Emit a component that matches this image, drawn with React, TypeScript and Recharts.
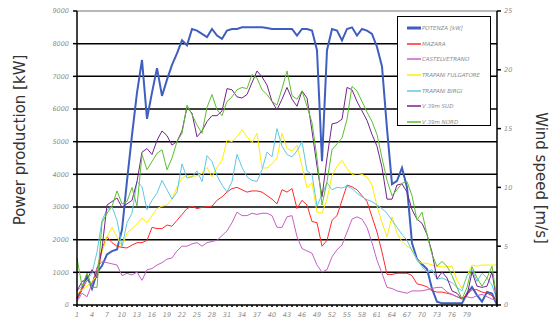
import { ComposedChart, Legend, Line, ReferenceLine, XAxis, YAxis } from 'recharts'

const WIDTH = 549
const HEIGHT = 324

// one sample per time step, 1..85
const STEPS = Array.from({ length: 85 }, (_, i) => i + 1)
const X_LABELS = [1, 4, 7, 10, 13, 16, 19, 22, 25, 28, 31, 34, 37, 40, 43, 46, 49, 52, 55, 58, 61, 64, 67, 70, 73, 76, 79]
const POWER_TICKS = [0, 1000, 2000, 3000, 4000, 5000, 6000, 7000, 8000, 9000]
const GRID_LINES = [1000, 2000, 3000, 4000, 5000, 6000, 7000, 8000]
const WIND_TICKS = [0, 5, 10, 15, 20, 25]

// kW, left axis
const POTENZA = [
  200, 500, 900, 500, 1000, 1200, 1550, 1650, 1700, 2300, 3800, 5200, 6500, 7500, 5700, 6500, 7250, 6400, 6900, 7350,
  7700, 8100, 7950, 8450, 8400, 8300, 8200, 8450, 8250, 8150, 8400, 8450, 8450, 8500, 8500, 8500, 8500, 8500, 8480, 8450,
  8450, 8450, 8450, 8450, 8250, 8450, 8450, 8400, 7800, 4400, 7800, 8450, 8400, 8100, 8450, 8500, 8250, 8450, 8400, 8300,
  7900, 7300, 5400, 3700, 3800, 4200, 3600, 1900, 1400, 1250, 1100, 500, 100, 50, 50, 50, 50, 50, 350, 550,
  300, 100, 400, 350, 0,
]

// m/s, right axis
const MAZARA = [
  0.5, 1.3, 2.1, 1.8, 3.0, 4.8, 5.8, 5.3, 5.0, 4.9, 4.85, 5.1, 5.3, 5.3, 5.5, 6.6, 6.5, 6.5, 6.8, 6.7,
  7.2, 7.7, 8.2, 8.4, 8.2, 8.3, 8.35, 8.4, 8.9, 9.2, 9.6, 9.9, 10.0, 9.8, 9.6, 9.7, 9.7, 9.6, 9.3, 9.0,
  8.6, 9.8, 9.6, 9.9, 8.2, 8.9, 8.5, 7.1, 7.0, 5.0, 5.5, 7.2, 7.6, 8.9, 10.2, 10.05, 9.8, 9.3, 8.8, 7.5,
  6.2, 4.5, 2.6, 2.6, 2.7, 2.7, 2.7, 2.5, 1.8, 1.7, 1.55, 1.2, 1.1, 1.1, 1.0, 0.9, 0.7, 0.5, 0.9, 1.3,
  1.3, 1.1, 1.0, 0.8, 0.4,
]
const CASTELVETRANO = [
  0.3, 1.0, 0.7, 1.8, 3.2, 3.7, 3.6, 3.5, 3.4, 2.5, 2.7, 2.55, 2.8, 2.1, 3.0, 3.1, 3.4, 3.6, 3.9, 4.0,
  4.6, 5.0, 5.0, 5.2, 5.3, 5.0, 5.3, 5.4, 5.5, 5.9, 6.3, 7.0, 7.9, 7.6, 7.6, 7.8, 7.7, 7.8, 7.8, 7.6,
  6.6, 6.6, 7.5, 7.6, 5.8, 4.8, 4.6, 4.4, 3.4, 2.8, 3.0, 4.1, 4.7, 5.1, 6.2, 7.3, 7.5, 7.3, 6.6, 5.3,
  3.8, 2.7, 1.5, 1.4, 1.2, 1.1, 1.0, 1.2, 1.2, 1.2, 1.3, 1.4, 1.5, 1.5, 1.1, 0.9, 0.7, 0.6, 0.7, 0.6,
  0.8, 0.9, 0.7, 0.5, 0.4,
]
const FULGATORE = [
  1.0, 1.3, 1.6, 2.0, 2.5, 4.5, 5.8, 6.6, 5.8, 4.96, 6.1, 6.5, 6.9, 7.4, 7.0, 7.6, 8.2, 8.4, 8.5, 9.0,
  10.0, 10.8, 11.0, 10.9, 11.0, 11.2, 11.7, 10.9, 11.7, 12.3, 14.0, 13.9, 14.3, 14.9, 14.3, 13.8, 14.6, 11.65, 11.65, 12.0,
  12.5, 14.6, 13.3, 13.1, 13.6, 11.8, 9.95, 10.4, 7.9, 7.8, 9.0, 11.0, 11.8, 12.3, 11.6, 11.1, 11.2, 11.1, 10.9, 10.2,
  8.4, 7.0, 5.8, 7.5, 6.1, 5.4, 5.0, 4.75, 3.8, 3.55, 3.55, 3.4, 3.3, 3.25, 3.25, 3.3, 2.1, 1.4, 2.5, 3.4,
  3.3, 3.4, 3.4, 3.4, 3.4,
]
const BIRGI = [
  1.2, 1.6, 2.1, 2.7, 4.5, 7.2, 8.1, 8.36, 7.2, 4.96, 7.0, 7.8, 10.5, 10.05, 8.1, 8.9, 9.5, 10.6, 9.8, 9.0,
  9.6, 12.0, 10.8, 10.9, 11.4, 10.5, 12.7, 12.2, 11.0, 10.2, 9.6, 10.5, 12.8, 11.7, 10.9, 10.6, 10.5, 11.5, 13.0, 12.6,
  15.0, 13.5, 12.8, 12.6, 13.1, 13.9, 11.4, 11.1, 8.4, 9.4, 10.4, 9.8, 10.0, 9.95, 10.1, 9.9, 9.5, 9.2, 8.95, 8.8,
  8.5, 8.2, 7.8, 7.2, 6.6, 6.0, 5.5, 4.6, 3.9, 3.25, 2.8, 3.0, 2.2, 2.3, 2.1, 1.9, 1.5, 1.2, 2.5, 3.0,
  2.0, 2.7, 2.3, 1.7, 0.4,
]
const SUD = [
  1.2, 2.0, 2.2, 3.0, 2.3, 4.8, 8.5, 8.8, 9.1, 8.3, 8.6, 8.9, 10.5, 13.0, 13.3, 12.8, 14.0, 14.8, 14.4, 13.6,
  13.9, 14.8, 16.8, 16.3, 14.3, 14.8, 15.6, 16.1, 16.1, 16.5, 18.4, 18.3, 17.7, 17.6, 17.9, 18.9, 19.9, 19.4, 18.7, 17.3,
  16.6, 17.5, 18.5, 17.5, 16.9, 18.2, 17.6, 14.8, 11.8, 9.2, 12.5, 15.4, 15.5, 15.8, 18.5, 18.3, 17.3, 16.5, 15.7, 14.5,
  13.5, 11.7, 9.0, 9.0, 10.2, 10.3, 9.6, 8.1, 7.3, 6.95, 6.0, 4.5, 2.2, 2.8, 2.3, 1.2, 1.0, 0.5, 0.8, 2.8,
  1.6, 1.5, 1.6, 2.8, 0.2,
]
const NORD = [
  4.0, 1.6, 2.7, 1.5, 1.5, 7.0, 7.8, 8.4, 9.7, 8.6, 8.8, 10.0, 8.4, 12.8, 11.5, 12.2, 12.9, 13.2, 11.5, 12.5,
  13.9, 14.6, 17.0, 16.2, 15.3, 14.6, 16.8, 17.9, 16.6, 16.1, 17.3, 17.7, 18.3, 18.5, 18.4, 19.6, 19.3, 18.3, 17.9, 17.3,
  17.0, 18.4, 19.9, 17.8, 17.5, 18.2, 16.9, 15.5, 12.5, 8.5, 10.5, 13.2, 13.7, 14.2, 15.8, 18.6, 18.2, 17.3, 16.4, 15.6,
  14.5, 12.5, 10.6, 9.3, 9.8, 10.35, 10.5, 9.3, 7.2, 7.9, 6.0, 4.3, 3.3, 3.7, 3.3, 2.5, 1.5, 0.5, 1.5, 3.25,
  2.3, 1.6, 2.3, 3.3, 0.4,
]

const SERIES = [
  { key: 'potenza', name: 'POTENZA [kW]', color: '#3f5fbf', width: 2, axis: 'kw', values: POTENZA },
  { key: 'mazara', name: 'MAZARA', color: '#ff2a2a', width: 1, axis: 'ms', values: MAZARA },
  { key: 'castelvetrano', name: 'CASTELVETRANO', color: '#c462c4', width: 1, axis: 'ms', values: CASTELVETRANO },
  { key: 'fulgatore', name: 'TRAPANI FULGATORE', color: '#ffee00', width: 1, axis: 'ms', values: FULGATORE },
  { key: 'birgi', name: 'TRAPANI BIRGI', color: '#5cc8e6', width: 1, axis: 'ms', values: BIRGI },
  { key: 'sud', name: 'V 39m SUD', color: '#74228e', width: 1, axis: 'ms', values: SUD },
  { key: 'nord', name: 'V 39m NORD', color: '#5cbf2e', width: 1, axis: 'ms', values: NORD },
]

const rows = STEPS.map((step, i) => {
  const row: Record<string, number> = { step }
  SERIES.forEach((s) => (row[s.key] = s.values[i]))
  return row
})

const tickStyle = { fill: '#8a8a8a', fontSize: 6.5, fontStyle: 'italic', fontFamily: 'DejaVu Sans' }

function LegendBox() {
  return (
    <div
      style={{
        width: 94,
        height: 110,
        boxSizing: 'border-box',
        border: '1.5px solid #000',
        background: '#fff',
        paddingTop: 3,
      }}
    >
      {SERIES.map((s) => (
        <div key={s.key} style={{ display: 'flex', alignItems: 'center', height: 15.7, paddingLeft: 9 }}>
          <svg width={14} height={4} style={{ flexShrink: 0 }}>
            <line x1={0} y1={2} x2={14} y2={2} stroke={s.color} strokeWidth={s.width === 2 ? 3 : 1.5} />
          </svg>
          <span
            style={{
              marginLeft: 1,
              fontFamily: 'DejaVu Sans',
              fontSize: 5.5,
              fontStyle: 'italic',
              color: '#8a8a8a',
              whiteSpace: 'nowrap',
            }}
          >
            {s.name}
          </span>
        </div>
      ))}
    </div>
  )
}

export default function App() {
  return (
    <div style={{ position: 'absolute', left: 0, top: 0, width: WIDTH, height: HEIGHT, background: '#fff' }}>
      <ComposedChart width={WIDTH} height={HEIGHT} data={rows} margin={{ top: 11, right: 0, bottom: 0, left: 0 }}>
        <XAxis
          dataKey="step"
          type="number"
          domain={[1, 85]}
          ticks={STEPS}
          interval={0}
          tickFormatter={(v: number) => (X_LABELS.includes(v) ? String(v) : '')}
          height={19}
          tick={tickStyle}
          tickSize={2}
          tickMargin={5}
          stroke="#000"
          strokeWidth={1.5}
          xAxisId="x"
        />
        <YAxis
          yAxisId="kw"
          domain={[0, 9000]}
          ticks={POWER_TICKS}
          interval={0}
          width={77}
          tick={tickStyle}
          tickSize={4}
          tickMargin={4}
          stroke="#000"
          strokeWidth={1.5}
          label={{
            content: () => (
              <text
                x={25}
                y={140}
                transform="rotate(-90 25 140)"
                textAnchor="middle"
                fontFamily="DejaVu Sans"
                fontSize={15}
                fill="#333"
              >
                Power production [kW]
              </text>
            ),
          }}
        />
        <YAxis
          yAxisId="ms"
          orientation="right"
          domain={[0, 25]}
          ticks={WIND_TICKS}
          interval={0}
          width={52}
          tick={tickStyle}
          tickSize={4}
          tickMargin={3}
          stroke="#000"
          strokeWidth={1.5}
          label={{
            content: () => (
              <text
                x={536}
                y={178}
                transform="rotate(90 536 178)"
                textAnchor="middle"
                fontFamily="DejaVu Sans"
                fontSize={15}
                fill="#333"
              >
                Wind speed [m/s]
              </text>
            ),
          }}
        />
        {GRID_LINES.map((v) => (
          <ReferenceLine key={v} y={v} yAxisId="kw" xAxisId="x" stroke="#000" strokeWidth={1.5} />
        ))}
        <ReferenceLine y={9000} yAxisId="kw" xAxisId="x" stroke="#a0a0a0" strokeWidth={1.5} />
        {SERIES.map((s) => (
          <Line
            key={s.key}
            dataKey={s.key}
            name={s.name}
            yAxisId={s.axis}
            xAxisId="x"
            type="linear"
            stroke={s.color}
            strokeWidth={s.width}
            dot={false}
            activeDot={false}
            isAnimationActive={false}
          />
        ))}
        <Legend
          layout="horizontal"
          verticalAlign="middle"
          align="center"
          content={() => <LegendBox />}
          wrapperStyle={{ left: 397, top: 16, width: 94, height: 110 }}
        />
      </ComposedChart>
    </div>
  )
}
